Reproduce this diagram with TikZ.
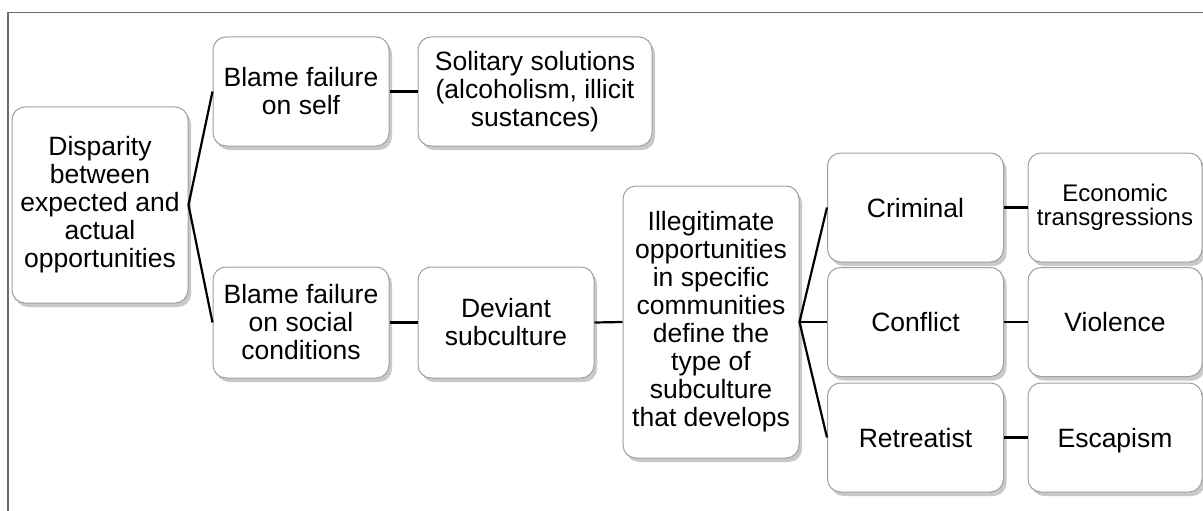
\documentclass[tikz,border=0pt]{standalone}
\usepackage{fontspec}
\setmainfont{Liberation Sans}
\usetikzlibrary{shadows}

\tikzset{
    box/.style={draw=gray!75, line width=1pt, fill=white, rounded corners=13pt,
        align=center, minimum width=176pt, minimum height=109pt, inner sep=2pt,
        font=\fontsize{26.5}{28}\selectfont,
        drop shadow={shadow xshift=3pt, shadow yshift=-4pt, fill=gray!60, opacity=0.7}},
    oneline/.style={text height=20pt, text depth=1pt},
    smalltext/.style={font=\fontsize{24}{24}\selectfont},
    link/.style={line width=2.2pt, black}
}

\begin{document}
\begin{tikzpicture}[x=1pt, y=-1pt]
    \useasboundingbox (0,0) rectangle (1203,511);
    \clip (0,0) rectangle (1203,511);
    % outer frame
    \draw[gray!85!black, line width=1.5pt] (8,12.5) rectangle (1260,560);

    % root
    \node[box, minimum height=196pt] (disparity) at (100,205)
        {Disparity\\between\\expected and\\actual\\opportunities};

    % upper branch
    \node[box] (self) at (301,91.5) {Blame failure\\on self};
    \node[box, minimum width=234pt] (solitary) at (535,91.5)
        {Solitary solutions\\(alcoholism, illicit\\sustances)};

    % lower branch
    \node[box, minimum height=111pt] (social) at (301,322.5)
        {Blame failure\\on social\\conditions};
    \node[box, minimum height=111pt] (deviant) at (506,322.5) {Deviant\\subculture};
    \node[box, minimum height=272pt] (illegit) at (711,322)
        {Illegitimate\\opportunities\\in specific\\communities\\define the\\type of\\subculture\\that develops};

    % subculture types
    \node[box, oneline] (criminal) at (915.5,207.5) {Criminal};
    \node[box, oneline] (conflict) at (915.5,322) {Conflict};
    \node[box, oneline] (retreat) at (915.5,437.5) {Retreatist};

    % outcomes
    \node[box, smalltext, minimum width=174pt] (economic) at (1115,207.5)
        {Economic\\transgressions};
    \node[box, oneline, minimum width=174pt] (violence) at (1115,322) {Violence};
    \node[box, oneline, minimum width=174pt] (escapism) at (1115,437.5) {Escapism};

    \draw[link] (disparity.east) -- (self.west);
    \draw[link] (disparity.east) -- (social.west);
    \draw[link] (self.east) -- (solitary.west);
    \draw[link] (social.east) -- (deviant.west);
    \draw[link] (deviant.east) -- (illegit.west);
    \draw[link] (illegit.east) -- (criminal.west);
    \draw[link] (illegit.east) -- (conflict.west);
    \draw[link] (illegit.east) -- (retreat.west);
    \draw[link] (criminal.east) -- (economic.west);
    \draw[link] (conflict.east) -- (violence.west);
    \draw[link] (retreat.east) -- (escapism.west);
\end{tikzpicture}
\end{document}
